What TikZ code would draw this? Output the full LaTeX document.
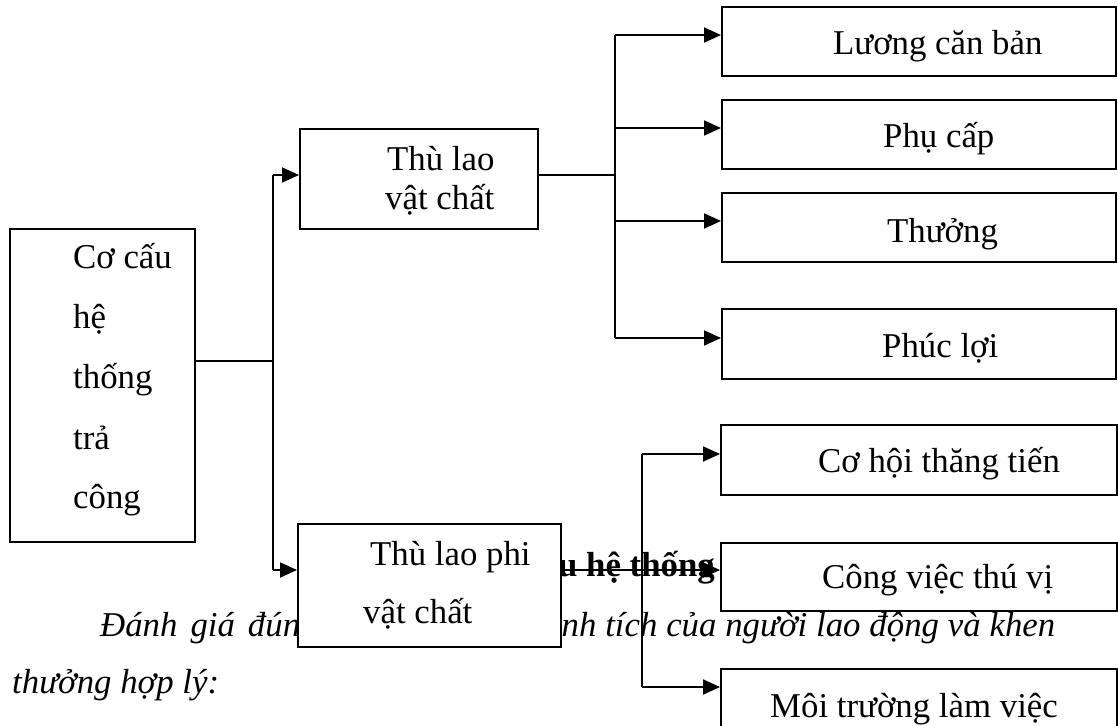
\documentclass[tikz,border=0pt]{standalone}
\usepackage{fontspec}
\setmainfont{Liberation Serif}
\usetikzlibrary{arrows.meta}
\begin{document}
\begin{tikzpicture}[x=1pt,y=-1pt,
  box/.style={draw, line width=1.6pt, fill=white, inner sep=0pt, anchor=north west},
  txt/.style={anchor=base west, inner sep=0pt, font=\fontsize{34.8}{40}\selectfont},
  conn/.style={line width=1.8pt},
  arr/.style={conn, -{Triangle[length=17pt,width=15pt]}}]
\clip (0,0) rectangle (1118,725);
\fill[white] (0,0) rectangle (1118,725);
% background page text
\node[txt, font=\fontsize{34.8}{40}\selectfont\bfseries, anchor=base east] (cap) at (715,576) {Cơ cấu hệ thống};
\node[txt, font=\fontsize{34.8}{40}\selectfont\itshape] (p1a) at (100,636) {\spaceskip=13pt Đánh giá đúng kết quả};
\node[txt, font=\fontsize{34.8}{40}\selectfont\itshape] (p1b) at (517,636) {\makebox[538pt][s]{thành tích của người lao động và khen}};
\node[txt, font=\fontsize{34.8}{40}\selectfont\itshape] (p2) at (12,693) {thưởng hợp lý:};
% boxes
\node[box, minimum width=185pt, minimum height=313pt] (root) at (9,228) {};
\node[box, minimum width=238pt, minimum height=100pt] (tlvc) at (299,128) {};
\node[box, minimum width=263pt, minimum height=123pt] (tlpvc) at (297,523) {};
\node[box, minimum width=394pt, minimum height=69pt] (lcb) at (721,6) {};
\node[box, minimum width=394pt, minimum height=69pt] (pc) at (721,99) {};
\node[box, minimum width=394pt, minimum height=69pt] (th) at (721,192) {};
\node[box, minimum width=394pt, minimum height=70pt] (pl) at (721,308) {};
\node[box, minimum width=396pt, minimum height=70pt] (chtt) at (720,424) {};
\node[box, minimum width=396pt, minimum height=68pt] (cvtv) at (720,542) {};
\node[box, minimum width=396pt, minimum height=70pt] (mtlv) at (720,668) {};
% texts in boxes
\node[txt] (r1) at (73,268) {Cơ cấu};
\node[txt] (r2) at (73,328) {hệ};
\node[txt] (r3) at (73,388) {thống};
\node[txt] (r4) at (73,449) {trả};
\node[txt] (r5) at (73,508) {công};
\node[txt] (v1) at (387,170) {Thù lao};
\node[txt] (v2) at (385,209) {vật chất};
\node[txt] (n1) at (370,565) {Thù lao phi};
\node[txt] (n2) at (363,623) {vật chất};
\node[txt] (t1) at (833,55) {Lương căn bản};
\node[txt] (t2) at (883,147) {Phụ cấp};
\node[txt] (t3) at (887,242) {Thưởng};
\node[txt] (t4) at (882,357) {Phúc lợi};
\node[txt] (t5) at (818,472) {Cơ hội thăng tiến};
\node[txt] (t6) at (822,588) {Công việc thú vị};
\node[txt] (t7) at (770,717) {Môi trường làm việc};
% connectors
\coordinate (j1) at (273,361);
\coordinate (a1) at (273,175);
\coordinate (a2) at (273,570);
\draw[conn] (root.east |- j1) -- (j1);
\draw[conn] (a1) -- (a2);
\draw[arr] (a1) -- (tlvc.west |- a1);
\draw[arr] (a2) -- (tlpvc.west |- a2);
\coordinate (j2) at (615,175);
\coordinate (b1) at (615,35);
\coordinate (b2) at (615,128);
\coordinate (b3) at (615,221);
\coordinate (b4) at (615,338);
\draw[conn] (tlvc.east |- j2) -- (j2);
\draw[conn] (b1) -- (b4);
\draw[arr] (b1) -- (lcb.west |- b1);
\draw[arr] (b2) -- (pc.west |- b2);
\draw[arr] (b3) -- (th.west |- b3);
\draw[arr] (b4) -- (pl.west |- b4);
\coordinate (c1) at (642,454);
\coordinate (c3) at (642,687);
\draw[conn] (c1) -- (c3);
\draw[arr] (tlpvc.east |- a2) -- (cvtv.west |- a2);
\draw[arr] (c1) -- (chtt.west |- c1);
\draw[arr] (c3) -- (mtlv.west |- c3);
\end{tikzpicture}
\end{document}
